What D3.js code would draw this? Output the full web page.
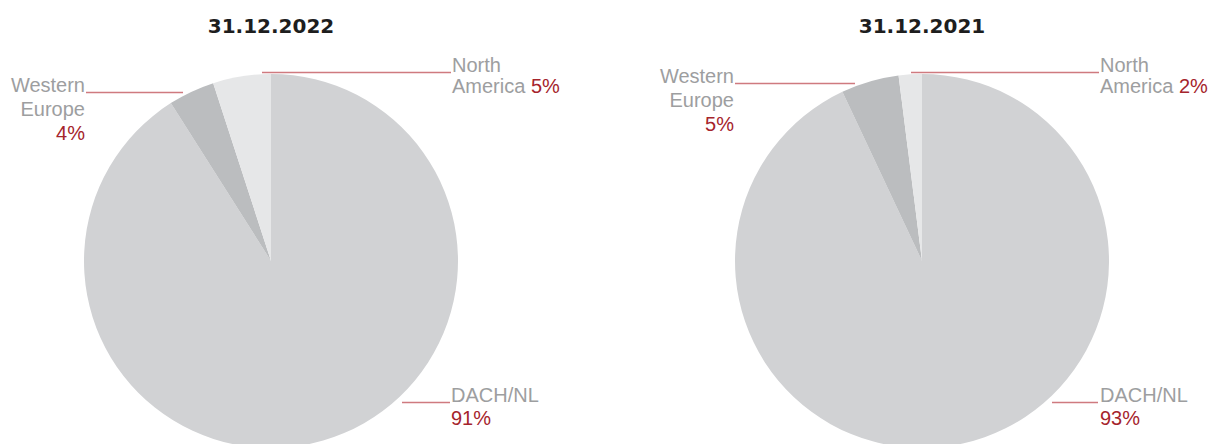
<!DOCTYPE html>
<html>
<head>
<meta charset="utf-8">
<script src="https://cdn.jsdelivr.net/npm/d3@7"></script>
<style>
  html, body { margin: 0; padding: 0; background: #fff; }
  svg { display: block; }
</style>
</head>
<body>
<svg id="chart" width="1217" height="444"></svg>
<script>
// ---- data ----
const categories = ["DACH/NL", "Western Europe", "North America"];
const values2022 = [91, 4, 5];
const values2021 = [93, 5, 2];
const titles = ["31.12.2022", "31.12.2021"];

// ---- style ----
const sliceColors = ["#d1d2d4", "#bbbdbf", "#e6e7e8"];
const greyText = "#9d9ea0";
const redText = "#a5242c";
const leaderColor = "#cf7a7f";
const labelFont = "'Liberation Sans', Arial, sans-serif";

const panels = [
  { title: titles[0], values: values2022, cx: 271,
    we: { tx: -186, y: 92, l0: -185, l1: -88 },
    na: { tx: 181, y: 72, l0: -9, l1: 180 },
    dach: { tx: 180, y: 402, l0: 131, l1: 179 } },
  { title: titles[1], values: values2021, cx: 922,
    we: { tx: -188, y: 83, l0: -187, l1: -67 },
    na: { tx: 178, y: 72, l0: -11, l1: 177 },
    dach: { tx: 178, y: 402, l0: 130, l1: 176 } }
];

const cy = 261, radius = 187;
const svg = d3.select("#chart");
const pie = d3.pie().sort(null).value(d => d.v);
const arc = d3.arc().innerRadius(0).outerRadius(radius);
const color = d3.scaleOrdinal().domain(categories).range(sliceColors);

panels.forEach(p => {
  const g = svg.append("g");
  const data = categories.map((c, i) => ({ c, v: p.values[i] }));

  g.append("g").attr("transform", `translate(${p.cx},${cy})`)
    .selectAll("path").data(pie(data)).join("path")
    .attr("d", arc).attr("fill", d => color(d.data.c));

  g.append("text").attr("x", p.cx).attr("y", 33)
    .attr("text-anchor", "middle")
    .attr("font-family", "'DejaVu Sans', sans-serif")
    .attr("font-weight", "bold").attr("font-size", 20)
    .attr("fill", "#1e1e1e").text(p.title);

  const lead = (o) => g.append("line")
    .attr("x1", p.cx + o.l0).attr("x2", p.cx + o.l1)
    .attr("y1", o.y + 0.5).attr("y2", o.y + 0.5)
    .attr("stroke", leaderColor).attr("stroke-width", 1.3);
  const txt = (x, y, anchor) => g.append("text")
    .attr("x", x).attr("y", y).attr("text-anchor", anchor)
    .attr("font-family", labelFont).attr("font-size", 20);

  // Western Europe (right-aligned, left side)
  lead(p.we);
  const weX = p.cx + p.we.tx;
  txt(weX, p.we.y, "end").attr("fill", greyText).text("Western");
  txt(weX, p.we.y + 24, "end").attr("fill", greyText).text("Europe");
  txt(weX, p.we.y + 48, "end").attr("fill", redText).text(p.values[1] + "%");

  // North America
  lead(p.na);
  const naX = p.cx + p.na.tx;
  txt(naX, p.na.y, "start").attr("fill", greyText).text("North");
  const t2 = txt(naX, p.na.y + 21, "start");
  t2.append("tspan").attr("fill", greyText).text("America ");
  t2.append("tspan").attr("fill", redText).text(p.values[2] + "%");

  // DACH/NL
  lead(p.dach);
  const dX = p.cx + p.dach.tx;
  txt(dX, p.dach.y, "start").attr("fill", greyText).text("DACH/NL");
  txt(dX, p.dach.y + 23, "start").attr("fill", redText).text(p.values[0] + "%");
});
</script>
</body>
</html>
